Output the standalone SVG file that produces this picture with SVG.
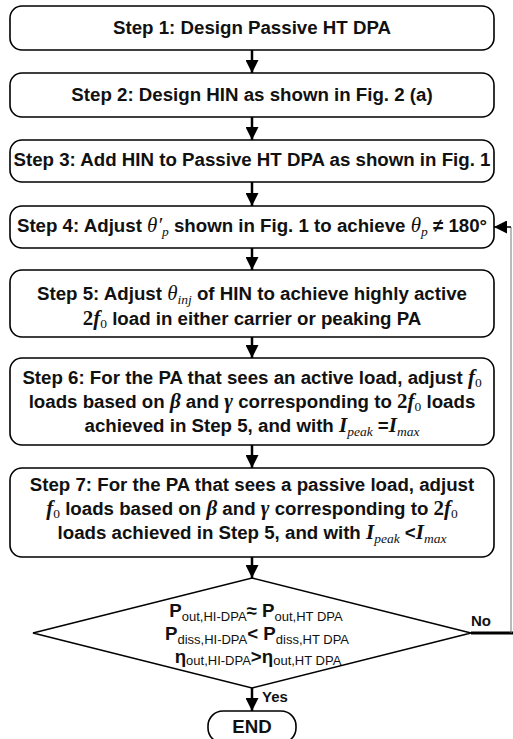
<svg xmlns="http://www.w3.org/2000/svg" width="513" height="739" viewBox="0 0 513 739">
<defs>
<style>
.box{fill:#fff;stroke:#000;stroke-width:1.6}
.t{font-family:"Liberation Sans",Arial,sans-serif;font-weight:bold;font-size:18.7px;text-anchor:middle;fill:#111}
.m{font-family:"Liberation Serif","Times New Roman",serif;font-style:italic;font-weight:normal}
.mb{font-family:"Liberation Serif","Times New Roman",serif;font-style:italic;font-weight:bold}
.n{font-family:"Liberation Serif","Times New Roman",serif;font-style:normal;font-weight:normal}
.nb{font-family:"Liberation Serif","Times New Roman",serif;font-style:normal;font-weight:bold}
.s{font-size:13.5px}
.ds{font-size:13px;font-weight:normal}
.conn line{stroke:#000;fill:none}
.lbl{font-family:"Liberation Sans",Arial,sans-serif;font-weight:bold;font-size:15px;fill:#111}
</style>
<marker id="ah" markerUnits="userSpaceOnUse" markerWidth="13" markerHeight="13" viewBox="0 0 13 13" refX="13" refY="6.5" orient="auto">
<path d="M0,0 L13,6.5 L0,13 z" fill="#000"/>
</marker>
</defs>
<rect width="513" height="739" fill="#fff"/>

<g id="step1"><rect class="box" x="10" y="6" width="484" height="44" rx="12"/>
<text class="t" x="252" y="34">Step 1: Design Passive HT DPA</text></g>

<g id="step2"><rect class="box" x="10" y="73" width="484" height="44" rx="12"/>
<text class="t" x="252" y="101">Step 2: Design HIN as shown in Fig. 2 (a)</text></g>

<g id="step3"><rect class="box" x="10" y="140" width="484" height="42" rx="12"/>
<text class="t" x="252" y="166">Step 3: Add HIN to Passive HT DPA as shown in Fig. 1</text></g>

<g id="step4"><rect class="box" x="10" y="206" width="484" height="42" rx="12"/>
<text class="t" x="252" y="232">Step 4: Adjust <tspan class="m" font-size="21">θ′</tspan><tspan class="m s" dy="4">p</tspan><tspan dy="-4"> shown in Fig. 1 to achieve </tspan><tspan class="m" font-size="21">θ</tspan><tspan class="m s" dy="4">p</tspan><tspan dy="-4"> ≠ 180°</tspan></text></g>

<g id="step5"><rect class="box" x="10" y="270" width="484" height="67" rx="12"/>
<text class="t" x="252" y="300">Step 5: Adjust <tspan class="m" font-size="21">θ</tspan><tspan class="m s" dy="4">inj</tspan><tspan dy="-4"> of HIN to achieve highly active</tspan></text>
<text class="t" x="252" y="325"><tspan class="nb" font-size="21">2</tspan><tspan class="mb" font-size="21">f</tspan><tspan class="n s" dy="3">0</tspan><tspan dy="-3"> load in either carrier or peaking PA</tspan></text></g>

<g id="step6"><rect class="box" x="10" y="358" width="484" height="87" rx="12"/>
<text class="t" x="252" y="384">Step 6: For the PA that sees an active load, adjust <tspan class="mb" font-size="21">f</tspan><tspan class="n s" dy="3">0</tspan></text>
<text class="t" x="252" y="408">loads based on <tspan class="mb" font-size="21">β</tspan> and <tspan class="mb" font-size="21">γ</tspan> corresponding to <tspan class="nb" font-size="21">2</tspan><tspan class="mb" font-size="21">f</tspan><tspan class="n s" dy="3">0</tspan><tspan dy="-3"> loads</tspan></text>
<text class="t" x="252" y="432">achieved in Step 5, and with <tspan class="mb" font-size="21">I</tspan><tspan class="m s" dy="4">peak</tspan><tspan dy="-4"> =</tspan><tspan class="mb" font-size="21">I</tspan><tspan class="m s" dy="4">max</tspan></text></g>

<g id="step7"><rect class="box" x="10" y="468" width="484" height="89" rx="12"/>
<text class="t" x="252" y="491">Step 7: For the PA that sees a passive load, adjust</text>
<text class="t" x="252" y="515"><tspan class="mb" font-size="21">f</tspan><tspan class="n s" dy="3">0</tspan><tspan dy="-3"> loads based on </tspan><tspan class="mb" font-size="21">β</tspan> and <tspan class="mb" font-size="21">γ</tspan> corresponding to <tspan class="nb" font-size="21">2</tspan><tspan class="mb" font-size="21">f</tspan><tspan class="n s" dy="3">0</tspan></text>
<text class="t" x="252" y="539">loads achieved in Step 5, and with <tspan class="mb" font-size="21">I</tspan><tspan class="m s" dy="4">peak</tspan><tspan dy="-4"> &lt;</tspan><tspan class="mb" font-size="21">I</tspan><tspan class="m s" dy="4">max</tspan></text></g>

<g id="decision"><polygon class="box" points="252,578 471,633 252,688 33,633"/>
<text class="t" x="256" y="617" font-size="20">P<tspan class="ds" dy="4">out,HI-DPA</tspan><tspan dy="-4">≈ P</tspan><tspan class="ds" dy="4">out,HT DPA</tspan></text>
<text class="t" x="257" y="640" font-size="20">P<tspan class="ds" dy="4">diss,HI-DPA</tspan><tspan dy="-4">&lt; P</tspan><tspan class="ds" dy="4">diss,HT DPA</tspan></text>
<text class="t" x="258" y="663" font-size="20">η<tspan class="ds" dy="2">out,HI-DPA</tspan><tspan dy="-2">&gt;η</tspan><tspan class="ds" dy="2">out,HT DPA</tspan></text></g>

<g id="end"><rect class="box" x="208" y="711" width="88" height="32" rx="15"/>
<text class="t" x="252" y="733" font-size="20">END</text></g>

<g id="connectors" class="conn">
<line x1="252" y1="50" x2="252" y2="73" stroke-width="2.5" marker-end="url(#ah)"/>
<line x1="252" y1="117" x2="252" y2="140" stroke-width="2.5" marker-end="url(#ah)"/>
<line x1="252" y1="182" x2="252" y2="206" stroke-width="2.5" marker-end="url(#ah)"/>
<line x1="252" y1="248" x2="252" y2="270" stroke-width="2.5" marker-end="url(#ah)"/>
<line x1="252" y1="337" x2="252" y2="358" stroke-width="2.5" marker-end="url(#ah)"/>
<line x1="252" y1="445" x2="252" y2="468" stroke-width="2.5" marker-end="url(#ah)"/>
<line x1="252" y1="557" x2="252" y2="578" stroke-width="2.5" marker-end="url(#ah)"/>
<line x1="252" y1="688" x2="252" y2="711" stroke-width="2.5" marker-end="url(#ah)"/>
<line x1="471" y1="633" x2="513" y2="633" stroke-width="3"/>
<line x1="511" y1="633" x2="511" y2="227" stroke-width="1" style="stroke:#777"/>
<line x1="511" y1="227" x2="494" y2="227" stroke-width="1.5" marker-end="url(#ah)"/>
<text class="lbl" x="471" y="626">No</text>
<text class="lbl" x="262" y="702">Yes</text>
</g>
</svg>
